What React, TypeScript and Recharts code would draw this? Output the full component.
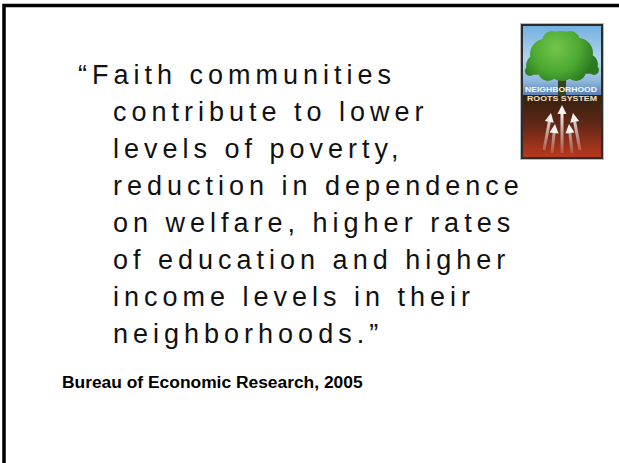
import React from "react";
import { ScatterChart, Scatter, XAxis, YAxis, Customized } from "recharts";

// Slide content
const quoteLines = [
  "\u201CFaith communities",
  "contribute to lower",
  "levels of poverty,",
  "reduction in dependence",
  "on welfare, higher rates",
  "of education and higher",
  "income levels in their",
  "neighborhoods.\u201D",
];
const lineRows = [0, 1, 2, 3, 4, 5, 6, 7];
const lineIndents = [0, 1, 1, 1, 1, 1, 1, 1];
const creditText = "Bureau of Economic Research, 2005";
const logoWords = ["NEIGHBORHOOD", "ROOTS SYSTEM"];

const quoteData = quoteLines.map((text, i) => ({
  text,
  row: lineRows[i],
  indent: lineIndents[i],
}));

const W = 619;
const H = 463;

const QuoteLine = (props: any) => {
  const { cx, cy, payload } = props;
  return (
    <text
      x={cx}
      y={cy}
      fontFamily="'Liberation Sans', Arial, sans-serif"
      fontSize={27}
      letterSpacing={5}
      fill="#111"
    >
      {payload.text}
    </text>
  );
};

const Frame = () => (
  <path d={`M4 ${H} L4 5.5 L${W} 5.5`} fill="none" stroke="#000" strokeWidth={3.5} />
);

const Credit = () => (
  <text
    x={62}
    y={388}
    fontFamily="'Liberation Sans', Arial, sans-serif"
    fontSize={17.4}
    fontWeight="bold"
    fill="#000"
  >
    {creditText}
  </text>
);

const arrows = [
  { x1: 544, y1: 150, x2: 551, y2: 113 },
  { x1: 562, y1: 153, x2: 562, y2: 105 },
  { x1: 580, y1: 150, x2: 573, y2: 113 },
  { x1: 552, y1: 153, x2: 555, y2: 124 },
  { x1: 572, y1: 153, x2: 569, y2: 124 },
];

const Arrow = ({ x1, y1, x2, y2 }: any) => {
  const dx = x2 - x1;
  const dy = y2 - y1;
  const len = Math.sqrt(dx * dx + dy * dy);
  const ux = dx / len;
  const uy = dy / len;
  const hl = 9;
  const hw = 4.5;
  const bx = x2 - ux * hl;
  const by = y2 - uy * hl;
  const px = -uy;
  const py = ux;
  return (
    <g>
      <line x1={x1} y1={y1} x2={bx} y2={by} stroke="url(#arrowGrad)" strokeWidth={3} />
      <polygon
        points={`${x2},${y2} ${bx + px * hw},${by + py * hw} ${bx - px * hw},${by - py * hw}`}
        fill="#fff"
        fillOpacity={0.95}
      />
    </g>
  );
};

const crownCircles = [
  { cx: 561, cy: 50, r: 19 },
  { cx: 545, cy: 54, r: 15 },
  { cx: 578, cy: 53, r: 15 },
  { cx: 552, cy: 41, r: 10 },
  { cx: 570, cy: 41, r: 10 },
  { cx: 536, cy: 65, r: 10 },
  { cx: 588, cy: 64, r: 10 },
  { cx: 548, cy: 71, r: 10 },
  { cx: 576, cy: 71, r: 10 },
  { cx: 562, cy: 67, r: 14 },
  { cx: 530, cy: 71, r: 5 },
  { cx: 594, cy: 70, r: 5 },
];

const Logo = () => (
  <g>
    <defs>
      <linearGradient id="skyGrad" x1="0" y1="0" x2="0" y2="1">
        <stop offset="0" stopColor="#74b0df" />
        <stop offset="0.5" stopColor="#b4d6ef" />
        <stop offset="0.8" stopColor="#8fb6dc" />
        <stop offset="1" stopColor="#5a80b4" />
      </linearGradient>
      <linearGradient id="groundGrad" x1="0" y1="0" x2="0" y2="1">
        <stop offset="0" stopColor="#33200f" />
        <stop offset="0.45" stopColor="#5e2716" />
        <stop offset="1" stopColor="#b8381f" />
      </linearGradient>
      <radialGradient
        id="crownGrad"
        gradientUnits="userSpaceOnUse"
        cx={556}
        cy={48}
        r={40}
      >
        <stop offset="0" stopColor="#72c64a" />
        <stop offset="0.6" stopColor="#4ca832" />
        <stop offset="1" stopColor="#2b7a1f" />
      </radialGradient>
      <linearGradient id="arrowGrad" gradientUnits="userSpaceOnUse" x1={0} y1={153} x2={0} y2={110}>
        <stop offset="0" stopColor="#fff" stopOpacity="0.15" />
        <stop offset="1" stopColor="#fff" stopOpacity="1" />
      </linearGradient>
    </defs>
    <rect x={520} y={23} width={84} height={137} fill="#bbb" />
    <rect x={521} y={24} width={82} height={135} fill="#2c2c2c" />
    <rect x={523} y={26} width={78} height={69} fill="url(#skyGrad)" />
    <rect x={523} y={95} width={78} height={62} fill="url(#groundGrad)" />
    <rect x={558} y={74} width={8} height={22} fill="#3a3f1c" />
    <g fill="url(#crownGrad)">
      {crownCircles.map((c, i) => (
        <circle key={i} cx={c.cx} cy={c.cy} r={c.r} />
      ))}
    </g>
    <text
      x={525}
      y={92}
      fontFamily="'Liberation Sans', Arial, sans-serif"
      fontSize={7.5}
      fontWeight="bold"
      fill="#f4f8ff"
      textLength={72}
      lengthAdjust="spacingAndGlyphs"
    >
      {logoWords[0]}
    </text>
    <text
      x={527}
      y={101}
      fontFamily="'Liberation Sans', Arial, sans-serif"
      fontSize={7.5}
      fontWeight="bold"
      fill="#f1e3c6"
      textLength={70}
      lengthAdjust="spacingAndGlyphs"
    >
      {logoWords[1]}
    </text>
    {arrows.map((a, i) => (
      <Arrow key={i} {...a} />
    ))}
  </g>
);

export default function App() {
  return (
    <div style={{ position: "absolute", left: 0, top: 0, width: W, height: H, background: "#fff" }}>
      <ScatterChart
        width={W}
        height={H}
        margin={{ top: 84, left: 78, right: 506, bottom: 120 }}
      >
        <XAxis type="number" dataKey="indent" domain={[0, 1]} hide />
        <YAxis type="number" dataKey="row" domain={[0, 7]} reversed hide />
        <Customized component={<Frame />} />
        <Customized component={<Logo />} />
        <Scatter data={quoteData} shape={<QuoteLine />} isAnimationActive={false} />
        <Customized component={<Credit />} />
      </ScatterChart>
    </div>
  );
}
